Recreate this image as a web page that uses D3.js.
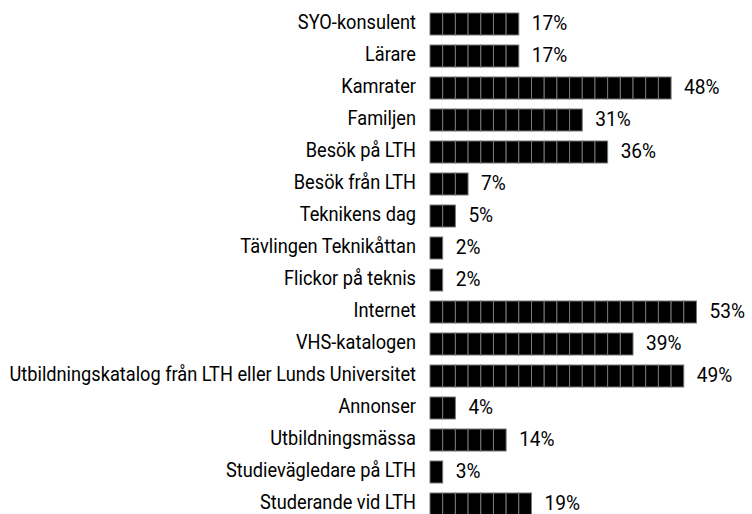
<!doctype HTML>
<html>
<head>
    <style>
        body { margin: 0; background: #fff; }
        text { font-family: "Roboto", sans-serif; fill: #000; }
    </style>
    <script src="https://d3js.org/d3.v7.min.js"></script>
</head>
<body>
<div id="chart"></div>
<script>

    // categories and percentages, top to bottom
    var categories = ["SYO-konsulent", "Lärare", "Kamrater", "Familjen", "Besök på LTH",
        "Besök från LTH", "Teknikens dag", "Tävlingen Teknikåttan", "Flickor på teknis",
        "Internet", "VHS-katalogen", "Utbildningskatalog från LTH eller Lunds Universitet",
        "Annonser", "Utbildningsmässa", "Studievägledare på LTH", "Studerande vid LTH"];
    var values = [17, 17, 48, 31, 36, 7, 5, 2, 2, 53, 39, 49, 4, 14, 3, 19];

    // each block in a bar stands for 2.5 percent
    var blockSize = 2.5;

    var canvasWidth = 752;
    var canvasHeight = 514;

    // no condensed font installed, so squeeze the text horizontally
    var squeeze = 0.91;

    var svg = d3.select("#chart").append("svg")
        .attr("width", canvasWidth)
        .attr("height", canvasHeight)

    var x = d3.scaleLinear().domain([0, 53]).range([430, 699]);

    var y = d3.scaleBand()
        .domain(categories)
        .range([8, 520])
        .paddingInner(0.3125)
        .paddingOuter(0.15625);

    var rows = svg.append("g")
        .selectAll("g")
        .data(categories)
        .join("g")
        .attr("transform", function(d){ return "translate(0," + y(d) + ")"; });

    // category labels
    rows.append("text")
        .attr("transform", "translate(416," + (y.bandwidth() / 2 - 2) + ") scale(" + squeeze + ",1)")
        .attr("dy", "0.36em")
        .attr("text-anchor", "end")
        .attr("font-size", "20px")
        .text(function(d){ return d; });

    // blocks of each bar
    rows.each(function(d, i){
        var n = Math.round(values[i] / blockSize);
        d3.select(this).selectAll("rect")
            .data(d3.range(n))
            .join("rect")
            .attr("x", function(k){ return x(k * blockSize); })
            .attr("y", 0)
            .attr("width", x(blockSize) - x(0))
            .attr("height", y.bandwidth())
            .attr("fill", "#000")
            .attr("stroke", "#777")
            .attr("stroke-width", 1);

        d3.select(this).append("text")
            .attr("transform", "translate(" + (x(n * blockSize) + 13) + "," + (y.bandwidth() / 2 - 2) + ") scale(" + squeeze + ",1)")
            .attr("dy", "0.36em")
            .attr("font-size", "21px")
            .text(values[i] + "%");
    });

</script>
</body>
</html>
